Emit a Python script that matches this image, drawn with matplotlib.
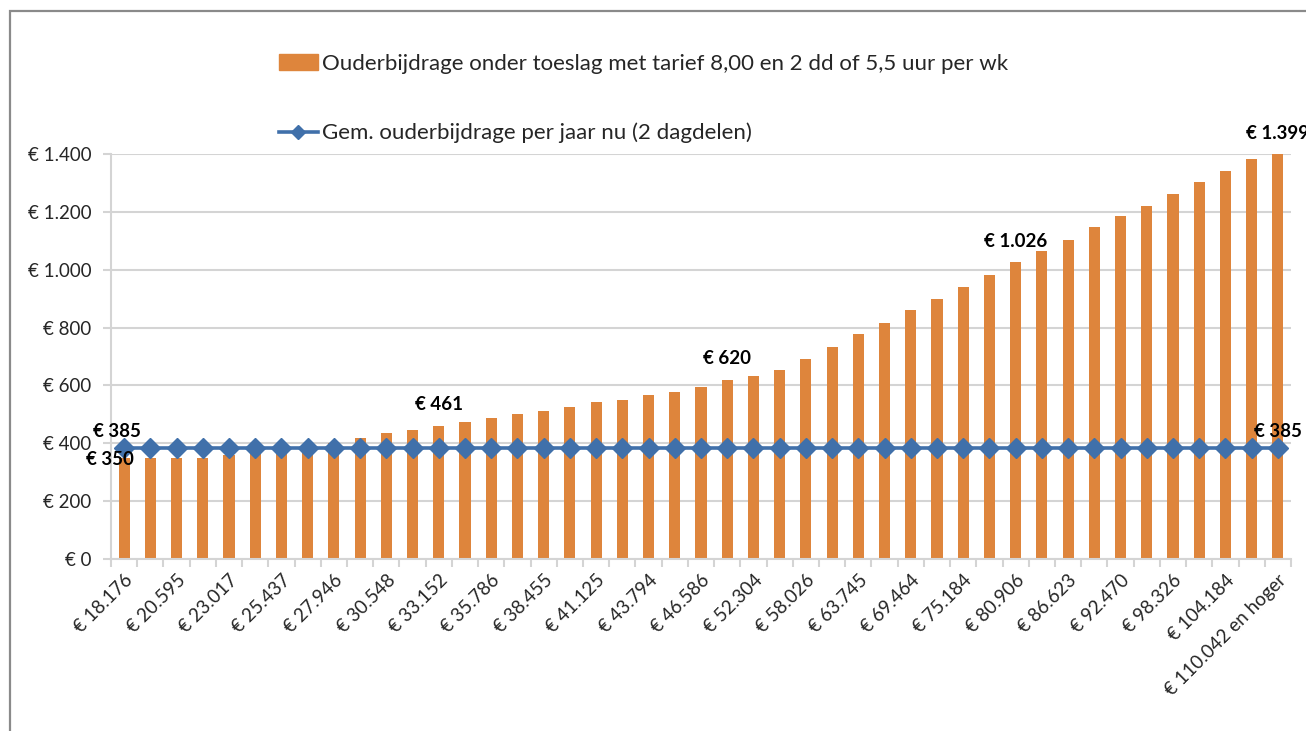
import matplotlib
matplotlib.use("Agg")
import matplotlib.pyplot as plt
from matplotlib.patches import Rectangle
from matplotlib.lines import Line2D
import numpy as np

plt.rcParams['font.family'] = ['Lato', 'DejaVu Sans']

# data: ouderbijdrage per inkomenscategorie (45 categories)
bijdrage = [350, 350, 350, 350, 360, 371, 381, 391, 402, 419,
            437, 446, 461, 474, 486, 500, 512, 527, 543, 550,
            566, 576, 593, 620, 634, 653, 693, 733, 777, 817,
            861, 900, 940, 981, 1026, 1066, 1104, 1148, 1185, 1221,
            1260, 1302, 1341, 1382, 1399]
gem_nu = [385] * 45
inkomen_labels = ["€ 18.176", "€ 20.595", "€ 23.017", "€ 25.437", "€ 27.946",
                  "€ 30.548", "€ 33.152", "€ 35.786", "€ 38.455", "€ 41.125",
                  "€ 43.794", "€ 46.586", "€ 52.304", "€ 58.026", "€ 63.745",
                  "€ 69.464", "€ 75.184", "€ 80.906", "€ 86.623", "€ 92.470",
                  "€ 98.326", "€ 104.184", "€ 110.042 en hoger"]
yticks = [0, 200, 400, 600, 800, 1000, 1200, 1400]
ytick_labels = ["€ 0", "€ 200", "€ 400", "€ 600", "€ 800", "€ 1.000", "€ 1.200", "€ 1.400"]
bar_label_idx = [12, 23, 34, 44]

orange = '#DE853C'
blue = '#4070AA'
grid = '#D4D4D4'
txt = '#262626'

W, H = 1306, 731
fig = plt.figure(figsize=(W / 100, H / 100), dpi=100)
ax = fig.add_axes([111 / W, 1 - 559 / H, (1291 - 111) / W, (559 - 154) / H])

x = np.arange(len(bijdrage))
ax.bar(x, bijdrage, width=0.42, color=orange, zorder=2,
       label="Ouderbijdrage onder toeslag met tarief 8,00 en 2 dd of 5,5 uur per wk")
ax.plot(x, gem_nu, color=blue, lw=2.6, marker='D', markersize=10, zorder=3,
        label="Gem. ouderbijdrage per jaar nu (2 dagdelen)")

ax.set_xlim(-0.5, len(bijdrage) - 0.5)
ax.set_ylim(0, 1400)
ax.set_yticks(yticks)
ax.set_yticklabels(ytick_labels, fontsize=13.5, color=txt)
ax.yaxis.grid(True, color=grid, lw=1.5, zorder=0)
ax.tick_params(axis='y', length=6, width=1.5, color=grid, pad=8)

ax.set_xticks(x[::2])
ax.set_xticklabels(inkomen_labels, rotation=45, ha='right', va='top',
                   rotation_mode='anchor', fontsize=13.5, color=txt)
ax.tick_params(axis='x', which='major', length=0, pad=9)
ax.set_xticks(np.arange(len(bijdrage) + 1) - 0.5, minor=True)
ax.tick_params(axis='x', which='minor', length=6, width=1.5, color=grid)

for s in ['top', 'right']:
    ax.spines[s].set_visible(False)
for s in ['left', 'bottom']:
    ax.spines[s].set_color(grid)
    ax.spines[s].set_linewidth(1.5)

# data labels
bold = dict(fontsize=13.5, fontweight='bold', color='black', clip_on=False)
for i in bar_label_idx:
    ax.annotate(f"€ {bijdrage[i]:,}".replace(",", "."), (x[i], bijdrage[i]),
                xytext=(0, 21), textcoords='offset pixels', ha='center', va='center', **bold)
ax.annotate(f"€ {bijdrage[0]}", (x[0], bijdrage[0]), xytext=(10, -2),
            textcoords='offset pixels', ha='right', va='center', **bold)
ax.annotate(f"€ {gem_nu[0]}", (x[0], gem_nu[0]), xytext=(-7, 16),
            textcoords='offset pixels', ha='center', va='center', **bold)
ax.annotate(f"€ {gem_nu[-1]}", (x[-1], gem_nu[-1]), xytext=(0, 16),
            textcoords='offset pixels', ha='center', va='center', **bold)

# legend (two rows, widely spaced)
h1 = Rectangle((0, 0), 1, 1, color=orange)
h2 = Line2D([0], [0], color=blue, lw=2.6, marker='D', markersize=7)
fig.legend([h1, h2], [ax.containers[0].get_label(), ax.lines[0].get_label()],
           loc='upper left', bbox_to_anchor=(259 / W, 1 - 34 / H), frameon=False,
           fontsize=16, labelspacing=2.2, handlelength=1.75, handleheight=0.7,
           handletextpad=0.2, labelcolor=txt)

# outer chart border
fig.patches.append(Rectangle((10 / W, -0.1), 1.2, 1 - 11 / H + 0.1, transform=fig.transFigure,
                             fill=False, edgecolor='#8A8A8A', lw=1.6))

fig.savefig("out.png", dpi=100)
